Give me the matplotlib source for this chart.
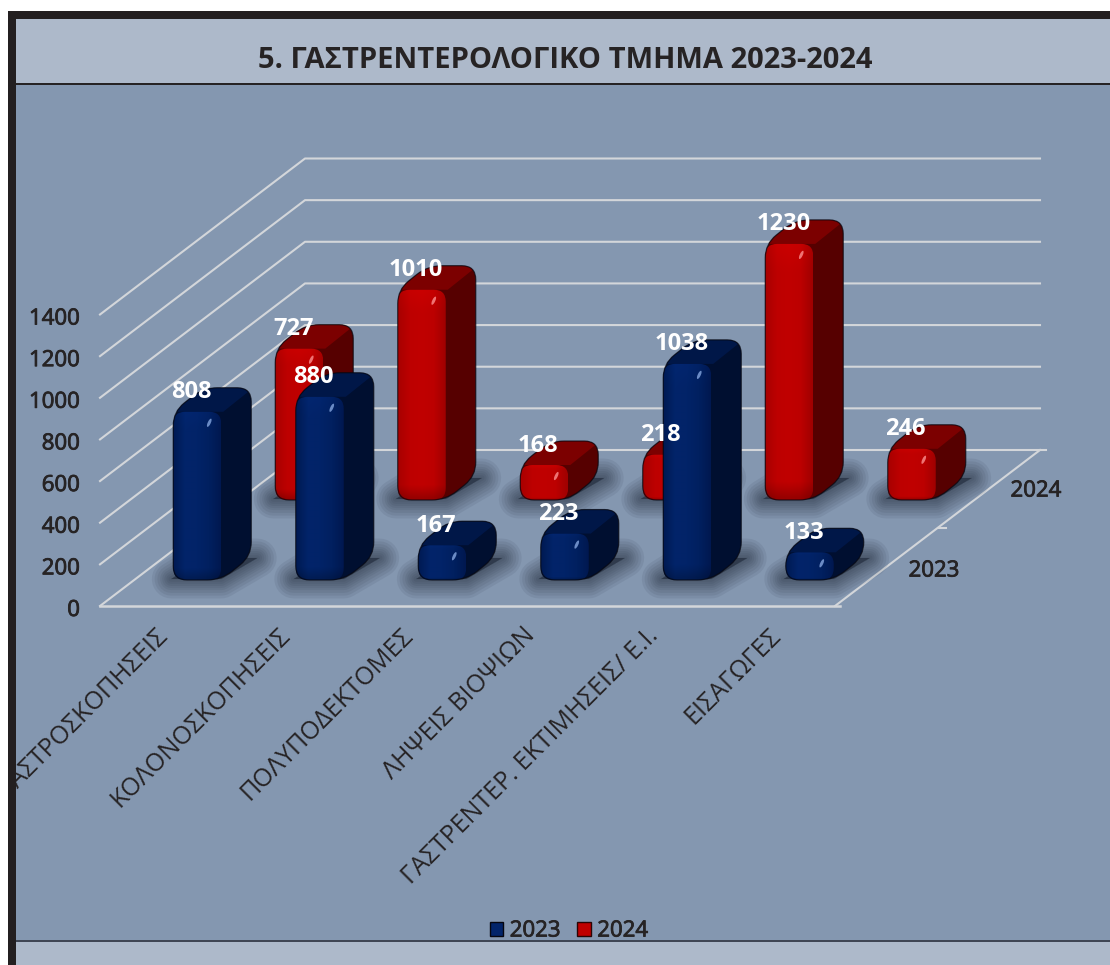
"""5. Gastroenterology department 2023-2024, fake 3D bars on a matplotlib axes."""

import numpy as np
import matplotlib

matplotlib.use("Agg")
import matplotlib.pyplot as plt
import matplotlib.patheffects as pe
from matplotlib.lines import Line2D
from matplotlib.patches import Ellipse, Patch, PathPatch, Rectangle
from matplotlib.path import Path
from matplotlib.transforms import Affine2D, Bbox, IdentityTransform

W, H = 1110, 965

TITLE = "5. ΓΑΣΤΡΕΝΤΕΡΟΛΟΓΙΚΟ ΤΜΗΜΑ 2023-2024"
CATEGORIES = [
    "ΓΑΣΤΡΟΣΚΟΠΗΣΕΙΣ",
    "ΚΟΛΟΝΟΣΚΟΠΗΣΕΙΣ",
    "ΠΟΛΥΠΟΔΕΚΤΟΜΕΣ",
    "ΛΗΨΕΙΣ ΒΙΟΨΙΩΝ",
    "ΓΑΣΤΡΕΝΤΕΡ. ΕΚΤΙΜΗΣΕΙΣ/ Ε.Ι.",
    "ΕΙΣΑΓΩΓΕΣ",
]
VALUES_2023 = [808, 880, 167, 223, 1038, 133]
VALUES_2024 = [727, 1010, 168, 218, 1230, 246]
Y_TICKS = [0, 200, 400, 600, 800, 1000, 1200, 1400]

FONT = ["Open Sans", "DejaVu Sans"]
INK = "#262324"
BAND = "#adb9ca"
BODY = "#8497b0"
GRID = "#d3d6da"

# px offsets of the oblique projection
WALL_DX, WALL_DY = 205, 156
BAR_W = 48 / 122.5
BAR_DX, BAR_DY = 30, 24

BLUE = {
    "front": ["#001a52", "#02246a", "#022368", "#012060", "#001850"],
    "top": "#001748",
    "side": "#000f30",
    "spark": "#8fb0e8",
}
RED = {
    "front": ["#a80000", "#bd0000", "#c00000", "#bc0000", "#a00000"],
    "top": "#7c0000",
    "side": "#560000",
    "spark": "#ff9a9a",
}

plt.rcParams["font.family"] = FONT
HEAVY = [pe.withStroke(linewidth=0.6, foreground=INK)]

fig = plt.figure(figsize=(W / 100, H / 100), dpi=100, facecolor="white")
ax = fig.add_axes([100 / W, 1 - 606 / H, 735 / W, 291.5 / H])
ax.set_xlim(-0.5, 5.5)
ax.set_ylim(0, 1400)
ax.set_autoscale_on(False)
ax.patch.set_visible(False)
for spine in ax.spines.values():
    spine.set_visible(False)

ID = IdentityTransform()


def px_rect(x0, y0, x1, y1, color, z=-5):
    fig.add_artist(Rectangle((x0 / W, 1 - y1 / H), (x1 - x0) / W, (y1 - y0) / H,
                             transform=fig.transFigure, fc=color, ec="none", zorder=z))


def disp(x, v, dx=0, dy=0):
    """Data point moved dx right and dy up, in display px."""
    px, py = ax.transData.transform((x, v))
    return px + dx, py + dy


def rounded(pts, r):
    verts, codes = [], []
    n = len(pts)
    for k in range(n):
        p = np.array(pts[k], float)
        a = np.array(pts[k - 1], float)
        b = np.array(pts[(k + 1) % n], float)
        ra = min(r, np.linalg.norm(a - p) / 2)
        rb = min(r, np.linalg.norm(b - p) / 2)
        start = p + (a - p) / np.linalg.norm(a - p) * ra
        end = p + (b - p) / np.linalg.norm(b - p) * rb
        verts += [start, p, end]
        codes += [Path.MOVETO if k == 0 else Path.LINETO, Path.CURVE3, Path.CURVE3]
    verts.append(verts[0])
    codes.append(Path.CLOSEPOLY)
    return Path(verts, codes)


def shade(path, arr, z):
    x0, y0 = path.vertices.min(axis=0)
    x1, y1 = path.vertices.max(axis=0)
    im = ax.imshow(arr, extent=(x0, x1, y0, y1), origin="lower", aspect="auto",
                   interpolation="bilinear", transform=ID, zorder=z)
    im.set_clip_box(fig.bbox)
    im.set_clip_path(path, ID)


def rgb(color):
    return np.array(matplotlib.colors.to_rgb(color))


def face_image(colors):
    """Horizontal colour stops, slightly darker at the bottom rim."""
    stops = np.array([rgb(c) for c in colors])
    xs = np.linspace(0, 1, 48)
    row = np.stack([np.interp(xs, np.linspace(0, 1, len(colors)), stops[:, c]) for c in range(3)], axis=1)
    arr = np.repeat(row[None, :, :], 48, axis=0)
    fade = np.interp(np.linspace(0, 1, 48), [0, 0.06, 0.9, 1], [0.8, 1, 1, 1.05])
    return np.clip(arr * fade[:, None, None], 0, 1)


def draw_shadow(x0, y0, z):
    poly = [(x0 - 2, y0 + 1), (x0 + 48, y0 + 1), (x0 + 84, y0 + 22), (x0 + 32, y0 + 22)]
    for lw in [28, 24, 20, 16, 13, 10, 7, 4, 1]:
        ax.add_patch(PathPatch(Path(poly + [poly[0]], closed=True), fc="#1b2433", ec="#1b2433",
                               lw=lw, alpha=0.08, joinstyle="round", transform=ID,
                               clip_on=False, zorder=z))


def draw_bar(i, value, off, style, z):
    x0, y0 = disp(i - BAR_W / 2, 0, off[0], off[1])
    x1, y1 = disp(i + BAR_W / 2, value, off[0], off[1])
    h = y1 - y0
    r = min(14, h * 0.6)
    outline = rounded([(x0, y0), (x0, y1), (x0 + BAR_DX, y1 + BAR_DY), (x1 + BAR_DX, y1 + BAR_DY),
                       (x1 + BAR_DX, y0 + BAR_DY), (x1, y0)], r)
    ax.add_patch(PathPatch(outline, fc=style["side"], ec="none", transform=ID, clip_on=False, zorder=z))
    # top face, clipped to the outline
    top = Path([(x0, y1), (x0 + BAR_DX, y1 + BAR_DY), (x1 + BAR_DX + 2, y1 + BAR_DY),
                (x1 + 2, y1), (x0, y1)], closed=True)
    top_patch = PathPatch(top, fc=style["top"], ec="none", transform=ID, zorder=z)
    ax.add_patch(top_patch)
    top_patch.set_clip_box(fig.bbox)
    top_patch.set_clip_path(outline, ID)
    front = rounded([(x0, y0), (x0, y1), (x1, y1), (x1, y0)], min(12, h * 0.5))
    shade(front, face_image(style["front"]), z)
    ax.add_patch(PathPatch(outline, fc="none", ec="#05060f", lw=0.9, alpha=0.7, transform=ID,
                           clip_on=False, zorder=z))
    ax.add_patch(Ellipse((x0 + 36, y1 - min(11, h * 0.45)), 3, 9, angle=-25, fc=style["spark"],
                         ec="none", alpha=0.75, transform=ID, clip_on=False, zorder=z))
    ax.text(x0 + 18, y1 + 19.5, str(value), color="white", fontsize=17, fontweight="bold",
            ha="center", va="center", transform=ID, clip_on=False, zorder=50)


# frame and background
px_rect(8, 11, W, H, "#231f20", -6)
px_rect(16, 19, W, 83, BAND)
px_rect(16, 83, W, 85, INK)
px_rect(16, 85, W, 940, BODY)
px_rect(16, 940, W, 942, "#3f4654")
px_rect(16, 942, W, H, BAND)

# walls and floor
for v in Y_TICKS:
    x_a, y_a = disp(-0.5, v)
    x_b, y_b = disp(-0.5, v, WALL_DX, WALL_DY)
    x_c, y_c = disp(5.5, v, WALL_DX + (6 if v == 0 else 0), WALL_DY)
    ax.add_line(Line2D([x_a, x_b, x_c], [y_a, y_b, y_c], color=GRID, lw=1.5, transform=ID,
                       clip_on=False, zorder=1))
x_a, y_a = disp(-0.5, 0)
x_b, y_b = disp(5.5, 0)
ax.add_line(Line2D([x_a, x_b + 5], [y_a, y_b], color=GRID, lw=1.8, transform=ID, clip_on=False, zorder=1))
ax.add_line(Line2D([x_b, x_b + WALL_DX], [y_b, y_b + WALL_DY], color=GRID, lw=1.5, transform=ID,
                   clip_on=False, zorder=1))
ax.add_line(Line2D([x_b + WALL_DX / 2, x_b + WALL_DX / 2 + 8], [y_b + WALL_DY / 2] * 2, color=GRID, lw=1.5,
                   transform=ID, clip_on=False, zorder=1))

# back row first, front row over it
BACK_OFF = (138, 106)
FRONT_OFF = (36, 26)
for i, value in enumerate(VALUES_2024):
    x0, y0 = disp(i - BAR_W / 2, 0, *BACK_OFF)
    draw_shadow(x0, y0, 2)
for i, value in enumerate(VALUES_2024):
    draw_bar(i, value, BACK_OFF, RED, 3 + i * 0.01)
for i, value in enumerate(VALUES_2023):
    x0, y0 = disp(i - BAR_W / 2, 0, *FRONT_OFF)
    draw_shadow(x0, y0, 4)
for i, value in enumerate(VALUES_2023):
    draw_bar(i, value, FRONT_OFF, BLUE, 5 + i * 0.01)

# value axis
ax.set_yticks(Y_TICKS)
ax.tick_params(axis="y", length=0, pad=14.4, labelsize=16, labelcolor=INK)
for label in ax.get_yticklabels():
    label.set_path_effects(HEAVY)
    label.set_transform(label.get_transform() + Affine2D().translate(0, -2))

# category axis, labels cut off by the frame like the original
ax.set_xticks(range(len(CATEGORIES)))
ax.set_xticklabels(CATEGORIES, rotation=45, ha="right", va="center", rotation_mode="anchor")
ax.tick_params(axis="x", length=0, pad=18.5, labelsize=18, labelcolor=INK)
for label in ax.get_xticklabels():
    label.set_transform(label.get_transform() + Affine2D().translate(3, 0))
    label.set_clip_box(Bbox([[16, 0], [W, H]]))
    label.set_clip_on(True)

# depth axis labels
for text, x, y in [("2023", 934, 571), ("2024", 1036, 491)]:
    ax.text(x, H - y, text, color=INK, fontsize=16, ha="center", va="center", transform=ID, clip_on=False,
            path_effects=HEAVY)

fig.text(565 / W, 1 - 61 / H, TITLE, color=INK, fontsize=21, fontweight="bold", ha="center", va="center")

handles = [Patch(fc="#02246a", ec="#05060f", label="2023"), Patch(fc="#c00000", ec="#2a0505", label="2024")]
legend = fig.legend(handles=handles, loc="center", bbox_to_anchor=(569 / W, 1 - 931 / H), ncol=2, frameon=False,
                    fontsize=16, labelcolor=INK, handlelength=0.6, handleheight=0.6, handletextpad=0.3,
                    columnspacing=0.75, borderpad=0)
for text in legend.get_texts():
    text.set_path_effects(HEAVY)

fig.savefig("out.png", dpi=100)
